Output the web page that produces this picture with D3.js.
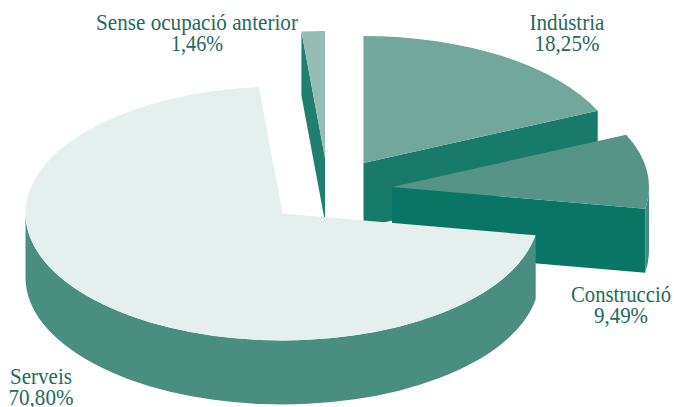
<!DOCTYPE html>
<html>
<head>
<meta charset="utf-8">
<script src="https://cdn.jsdelivr.net/npm/d3@7"></script>
<style>
  html, body { margin: 0; background: #fff; }
  svg { display: block; }
  text { font-family: "Liberation Serif", serif; font-size: 23px; fill: #236a5d; text-anchor: middle; }
</style>
</head>
<body>
<div id="chart"></div>
<script>
// values
const categories = ["Indústria", "Construcció", "Serveis", "Sense ocupació anterior"];
const shares = [18.25, 9.49, 70.80, 1.46];

const width = 674, height = 407;
const rx = 257, ry = 127, depth = 64;

// exploded slices: where each apex sits
const apexX = [363.5, 392, 282.5, 325];
const apexY = [163, 187, 213.5, 158];

const topColors = ["#72a79b", "#559487", "#e5efed", "#96bdb4"];
const sideColors = ["#187a69", "#097665", "#4a8e80", "#20806f"];
const rimColors = ["#187a69", "#3f8d7f", "#4a8e80", "#20806f"];

// label placement: centre x, first baseline, text widths of both lines
const labelX = [567, 621, 41, 197];
const labelY = [30, 302, 384, 30];
const nameW = [75, 100, 62, 202];
const valueW = [65, 54, 65, 52];
const lineStep = 20.5;

const svg = d3.select("#chart").append("svg")
  .attr("width", width)
  .attr("height", height);

const slices = d3.pie().sort(null).value(d => d)(shares);
const arc = d3.arc().innerRadius(0).outerRadius(rx);

// point on the flattened circle, angle clockwise from 12 o'clock
const px = (i, a) => apexX[i] + rx * Math.sin(a);
const py = (i, a) => apexY[i] - ry * Math.cos(a);

// back to front
const order = [3, 0, 1, 2];

order.forEach(i => {
  const s = slices[i];
  const g = svg.append("g");

  // flat face from apex to the slice's edge that looks at the viewer
  let edge = null;
  if (i === 3) edge = s.startAngle;
  if (i === 0 || i === 1) edge = s.endAngle;
  if (edge !== null) {
    const x1 = px(i, edge), y1 = py(i, edge);
    g.append("path")
      .attr("d", d3.line()([
        [apexX[i], apexY[i]], [x1, y1], [x1, y1 + depth], [apexX[i], apexY[i] + depth]
      ]))
      .attr("fill", sideColors[i]);
  }

  // outer rim, only the part on the lower half of the ellipse
  const a0 = Math.max(s.startAngle, Math.PI / 2);
  const a1 = Math.min(s.endAngle, Math.PI * 3 / 2);
  if (a1 > a0) {
    const x0 = px(i, a0), y0 = py(i, a0), x1 = px(i, a1), y1 = py(i, a1);
    const large = a1 - a0 > Math.PI ? 1 : 0;
    g.append("path")
      .attr("d", `M${x0},${y0}A${rx},${ry} 0 ${large} 1 ${x1},${y1}` +
        `V${y1 + depth}A${rx},${ry} 0 ${large} 0 ${x0},${y0 + depth}Z`)
      .attr("fill", rimColors[i]);
  }

  // top of the slice
  g.append("path")
    .attr("transform", `translate(${apexX[i]},${apexY[i]}) scale(1,${ry / rx})`)
    .attr("d", arc(s))
    .attr("fill", topColors[i]);
});

// the original face is condensed, so squeeze each line to its measured width
function fitText(str, x, y, w) {
  const t = svg.append("text").text(str);
  const sx = w / t.node().getComputedTextLength();
  t.attr("transform", `translate(${x},${y}) scale(${sx},1)`);
}

categories.forEach((name, i) => {
  const pct = shares[i].toFixed(2).replace(".", ",") + "%";
  fitText(name, labelX[i], labelY[i], nameW[i]);
  fitText(pct, labelX[i], labelY[i] + lineStep, valueW[i]);
});
</script>
</body>
</html>
